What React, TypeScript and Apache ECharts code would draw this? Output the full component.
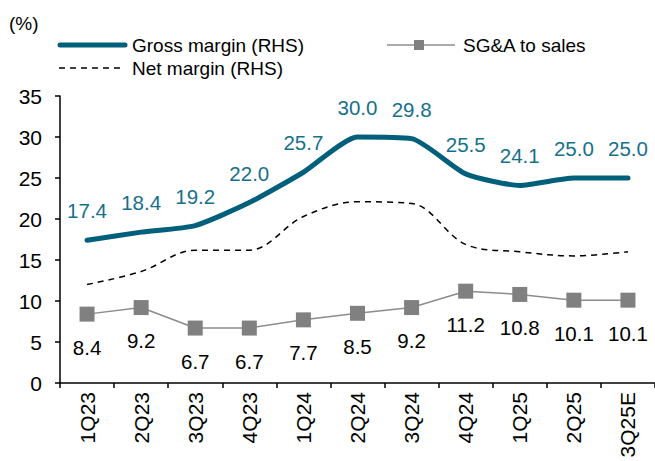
import React, { useEffect, useRef } from "react";
import * as echarts from "echarts";

const categories = ["1Q23", "2Q23", "3Q23", "4Q23", "1Q24", "2Q24", "3Q24", "4Q24", "1Q25", "2Q25", "3Q25E"];
const grossMargin = [17.4, 18.4, 19.2, 22.0, 25.7, 30.0, 29.8, 25.5, 24.1, 25.0, 25.0];
const netMargin = [12.0, 13.6, 16.2, 16.2, 20.3, 22.1, 21.9, 16.9, 16.0, 15.5, 16.0];
const sgaToSales = [8.4, 9.2, 6.7, 6.7, 7.7, 8.5, 9.2, 11.2, 10.8, 10.1, 10.1];
const yTicks = [0, 5, 10, 15, 20, 25, 30, 35];

const FONT = "'Liberation Sans', Arial, sans-serif";
const TEAL = "#005f7a";
const TEAL_TEXT = "#16708a";
const GREY = "#808080";

export default function App() {
  const ref = useRef<HTMLDivElement>(null);
  useEffect(() => {
    if (!ref.current) return;
    const chart = echarts.init(ref.current, undefined, { renderer: "svg" });
    const fs = 19;
    const axisFs = 21;
    const labelFs = 20.5;
    chart.setOption({
      animation: false,
      textStyle: { fontFamily: FONT },
      grid: { left: 60, top: 96, right: -7, bottom: 78 },
      xAxis: {
        type: "category",
        data: categories,
        boundaryGap: true,
        axisLine: { lineStyle: { color: "#000", width: 1.5 } },
        axisTick: { show: true, length: 5, alignWithLabel: false, lineStyle: { color: "#000", width: 1.5 } },
        axisLabel: { rotate: 90, color: "#000", fontSize: axisFs, fontFamily: FONT, margin: 9, interval: 0 },
      },
      yAxis: {
        type: "value",
        min: yTicks[0],
        max: yTicks[yTicks.length - 1],
        interval: 5,
        splitLine: { show: false },
        axisLine: { show: true, lineStyle: { color: "#000", width: 1.5 } },
        axisTick: { show: true, length: 5, lineStyle: { color: "#000", width: 1.5 } },
        axisLabel: { color: "#000", fontSize: axisFs, fontFamily: FONT, margin: 18 },
      },
      graphic: [
        { type: "text", left: 9, top: 14, style: { text: "(%)", fontSize: fs, fontFamily: FONT, fill: "#000" } },
        { type: "line", shape: { x1: 60, y1: 45, x2: 125, y2: 45 }, style: { stroke: TEAL, lineWidth: 5, lineCap: "round" } },
        { type: "text", x: 132, y: 45, style: { text: "Gross margin (RHS)", fontSize: fs, fontFamily: FONT, fill: "#000", verticalAlign: "middle" } },
        { type: "line", shape: { x1: 59, y1: 68, x2: 121, y2: 68 }, style: { stroke: "#000", lineWidth: 1.5, lineDash: [6, 5] } },
        { type: "text", x: 132, y: 68, style: { text: "Net margin (RHS)", fontSize: fs, fontFamily: FONT, fill: "#000", verticalAlign: "middle" } },
        { type: "line", shape: { x1: 387, y1: 45, x2: 455, y2: 45 }, style: { stroke: "#8c8c8c", lineWidth: 1.5 } },
        { type: "rect", shape: { x: 414, y: 40, width: 10, height: 10 }, style: { fill: GREY } },
        { type: "text", x: 463, y: 45, style: { text: "SG&A to sales", fontSize: fs, fontFamily: FONT, fill: "#000", verticalAlign: "middle" } },
      ],
      series: [
        {
          name: "Net margin (RHS)",
          type: "line",
          data: netMargin,
          smooth: 0.35,
          symbol: "none",
          lineStyle: { color: "#000", width: 1.5, type: [6, 5] },
          z: 2,
        },
        {
          name: "SG&A to sales",
          type: "line",
          data: sgaToSales,
          symbol: "rect",
          symbolSize: 15,
          itemStyle: { color: GREY },
          lineStyle: { color: "#8c8c8c", width: 1.5 },
          label: { show: true, position: "bottom", distance: 15, color: "#000", fontSize: labelFs, fontFamily: FONT, formatter: (p: any) => p.value.toFixed(1) },
          z: 3,
        },
        {
          name: "Gross margin (RHS)",
          type: "line",
          data: grossMargin,
          smooth: 0.2,
          symbol: "circle",
          symbolSize: 2,
          showSymbol: true,
          itemStyle: { color: "rgba(0,0,0,0)", borderWidth: 0 },
          lineStyle: { color: TEAL, width: 5, cap: "round", join: "round" },
          label: { show: true, position: "top", distance: 18, color: TEAL_TEXT, fontSize: labelFs, fontFamily: FONT, formatter: (p: any) => p.value.toFixed(1) },
          z: 4,
        },
      ],
    });
    return () => chart.dispose();
  }, []);
  return <div ref={ref} style={{ width: 655, height: 461, position: "absolute", left: 0, top: 0 }} />;
}
